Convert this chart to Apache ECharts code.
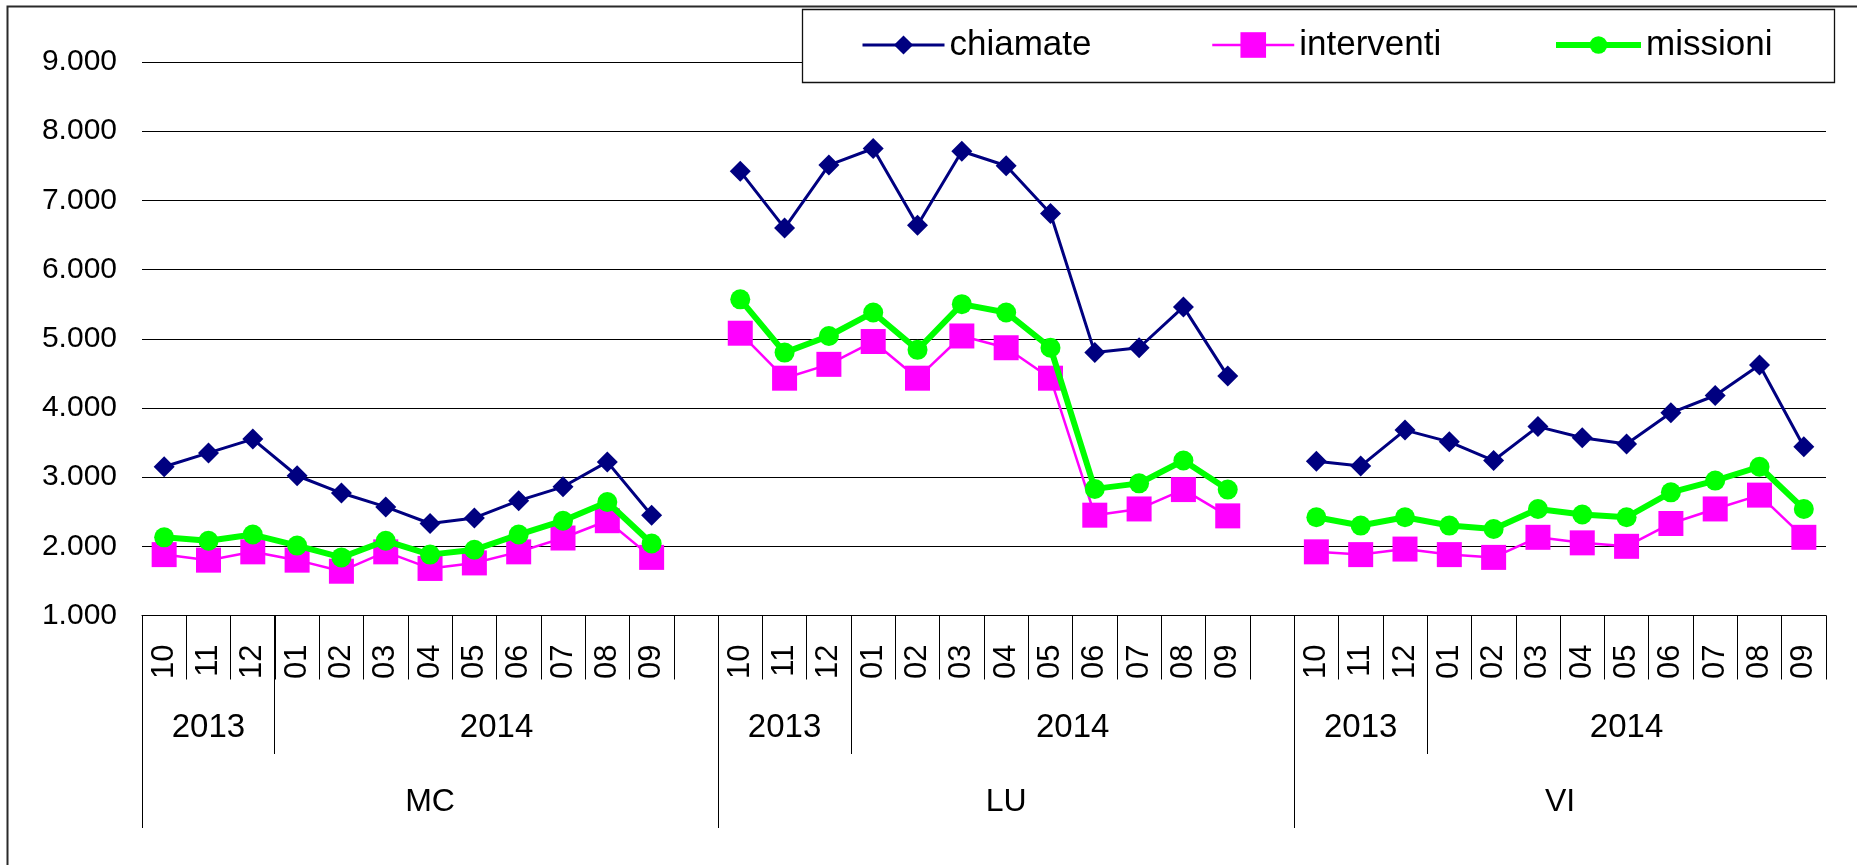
<!DOCTYPE html>
<html>
<head>
<meta charset="utf-8">
<script src="https://cdn.jsdelivr.net/npm/echarts@6/dist/echarts.min.js"></script>
<style>
html,body{margin:0;padding:0;background:#fff;}
#c{width:1857px;height:865px;}
</style>
</head>
<body>
<div id="c"></div>
<script>
// ---- data ----
const groups = ['MC', 'LU', 'VI'];
const months = ['10', '11', '12', '01', '02', '03', '04', '05', '06', '07', '08', '09'];
const monthYears = ['2013', '2013', '2013', '2014', '2014', '2014', '2014', '2014', '2014', '2014', '2014', '2014'];
const seriesNames = ['chiamate', 'interventi', 'missioni'];

const chiamateMC   = [3150, 3350, 3550, 3020, 2770, 2570, 2330, 2410, 2660, 2860, 3220, 2450];
const interventiMC = [1880, 1800, 1920, 1800, 1640, 1920, 1680, 1760, 1920, 2120, 2370, 1840];
const missioniMC   = [2130, 2080, 2170, 2010, 1840, 2080, 1880, 1950, 2170, 2370, 2640, 2040];

const chiamateLU   = [7420, 6600, 7510, 7750, 6640, 7710, 7500, 6810, 4800, 4870, 5460, 4460];
const interventiLU = [5080, 4430, 4630, 4960, 4430, 5040, 4870, 4430, 2450, 2540, 2820, 2440];
const missioniLU   = [5570, 4800, 5040, 5380, 4840, 5500, 5380, 4870, 2830, 2910, 3240, 2820];

const chiamateVI   = [3230, 3160, 3680, 3510, 3240, 3730, 3570, 3480, 3930, 4180, 4620, 3440];
const interventiVI = [1920, 1880, 1960, 1880, 1840, 2130, 2050, 2000, 2330, 2540, 2740, 2130];
const missioniVI   = [2420, 2300, 2420, 2300, 2250, 2540, 2460, 2420, 2780, 2950, 3150, 2540];

const yMin = 1000, yMax = 9000, yStep = 1000;

// ---- build categories (one blank slot after each group but the last) ----
const categories = [];
groups.forEach((g, gi) => {
  months.forEach((m, mi) => categories.push({ group: g, year: monthYears[mi], month: m }));
  if (gi < groups.length - 1) categories.push({ group: g, year: monthYears[months.length - 1], month: '' });
});
function joinGroups(arrs) {
  const out = [];
  arrs.forEach((a, gi) => { out.push(...a); if (gi < arrs.length - 1) out.push(null); });
  return out;
}
const seriesValues = {
  chiamate: joinGroups([chiamateMC, chiamateLU, chiamateVI]),
  interventi: joinGroups([interventiMC, interventiLU, interventiVI]),
  missioni: joinGroups([missioniMC, missioniLU, missioniVI])
};

const FONT = '"Liberation Sans", Arial, sans-serif';
const styles = {
  chiamate:   { color: '#000080', width: 3,   symbol: 'diamond', size: 21, legendH: 24, legendLeft: 861,  legendW: 82 },
  interventi: { color: '#FF00FF', width: 2.5, symbol: 'rect',    size: 25, legendH: 32, legendLeft: 1211, legendW: 82 },
  missioni:   { color: '#00FF00', width: 6,   symbol: 'circle',  size: 20, legendH: 22, legendLeft: 1553, legendW: 85 }
};
const legendTop = 27.5;

const chart = echarts.init(document.getElementById('c'), null, { renderer: 'canvas' });

const option = {
  animation: false,
  backgroundColor: '#fff',
  grid: { left: 142, top: 62, width: 1684, height: 553.5, containLabel: false },
  legend: seriesNames.map(n => ({
    data: [n],
    left: styles[n].legendLeft,
    top: legendTop,
    itemWidth: styles[n].legendW,
    itemHeight: styles[n].legendH,
    padding: 0,
    selectedMode: false,
    z: 10,
    lineStyle: { color: styles[n].color, width: styles[n].width },
    textStyle: { fontSize: 35, fontFamily: FONT, color: '#000', lineHeight: 16, padding: [0, 0, 10, 0] }
  })),
  xAxis: {
    type: 'category',
    data: categories.map((c, i) => c.group + '-' + (c.month || 'gap') + '-' + i),
    boundaryGap: true,
    axisLine: { show: true, lineStyle: { color: '#000', width: 1 } },
    axisTick: { show: true, interval: 0, length: 64, lineStyle: { color: '#000', width: 1 } },
    axisLabel: {
      interval: 0, rotate: 90, margin: 29,
      fontSize: 31, fontFamily: FONT, color: '#000',
      formatter: (v, i) => categories[i].month
    },
    splitLine: { show: false }
  },
  yAxis: {
    type: 'value',
    min: yMin, max: yMax, interval: yStep,
    axisLine: { show: false },
    axisTick: { show: false },
    axisLabel: {
      fontSize: 30, fontFamily: FONT, color: '#000', margin: 25,
      formatter: v => (v / 1000).toFixed(3)
    },
    splitLine: { show: true, lineStyle: { color: '#000', width: 1 } }
  },
  series: seriesNames.map((n, si) => ({
    name: n,
    type: 'line',
    data: seriesValues[n],
    symbol: styles[n].symbol,
    symbolSize: styles[n].size,
    showSymbol: true,
    showAllSymbol: true,
    connectNulls: false,
    z: 2 + si,
    lineStyle: { color: styles[n].color, width: styles[n].width },
    itemStyle: { color: styles[n].color, borderWidth: 0 },
    emphasis: { disabled: true }
  }))
};
chart.setOption(option);

// ---- multi-level category labels and separators via the chart's own scales ----
const n = categories.length;
const px = (i, v) => chart.convertToPixel({ gridIndex: 0 }, [i, v]);
const x0 = px(0, yMin)[0];
const bw = px(1, yMin)[0] - x0;
const axisY = px(0, yMin)[1];
const bx = b => x0 + (b - 0.5) * bw;
const snap = x => Math.round(x - 0.5) + 0.5;

const groupSpans = [], yearSpans = [];
categories.forEach((c, i) => {
  const prev = categories[i - 1];
  if (!prev || prev.group !== c.group) groupSpans.push({ label: c.group, start: i });
  if (!prev || prev.group !== c.group || prev.year !== c.year) yearSpans.push({ label: c.year, start: i });
});
[groupSpans, yearSpans].forEach(sp => sp.forEach((s, k) => { s.end = k < sp.length - 1 ? sp[k + 1].start : n; }));

const graphics = [];
// outer chart frame
graphics.push({ type: 'rect', z: 0, silent: true, shape: { x: 7.5, y: 6.5, width: 1900, height: 900 },
  style: { fill: null, stroke: '#2a2a2a', lineWidth: 2 } });
// legend box
graphics.push({ type: 'rect', z: 5, silent: true, shape: { x: 802.5, y: 9.5, width: 1032, height: 73 },
  style: { fill: '#fff', stroke: '#111', lineWidth: 1.3 } });

const groupStarts = new Set(groupSpans.map(s => s.start));
groupSpans.forEach(s => {
  const x = snap(bx(s.start));
  graphics.push({ type: 'line', silent: true, z: 5, shape: { x1: x, y1: axisY, x2: x, y2: axisY + 212.5 },
    style: { stroke: '#000', lineWidth: 1 } });
  graphics.push({ type: 'text', silent: true, z: 5,
    style: { text: s.label, x: (bx(s.start) + bx(s.end)) / 2, y: axisY + 187, align: 'center', verticalAlign: 'middle',
      fontSize: 32, fontFamily: FONT, fill: '#000' } });
});
yearSpans.forEach(s => {
  if (!groupStarts.has(s.start)) {
    const x = snap(bx(s.start));
    graphics.push({ type: 'line', silent: true, z: 5, shape: { x1: x, y1: axisY, x2: x, y2: axisY + 138.5 },
      style: { stroke: '#000', lineWidth: 1 } });
  }
  graphics.push({ type: 'text', silent: true, z: 5,
    style: { text: s.label, x: (bx(s.start) + bx(s.end)) / 2, y: axisY + 112.5, align: 'center', verticalAlign: 'middle',
      fontSize: 33, fontFamily: FONT, fill: '#000' } });
});
chart.setOption({ graphic: graphics });
</script>
</body>
</html>
